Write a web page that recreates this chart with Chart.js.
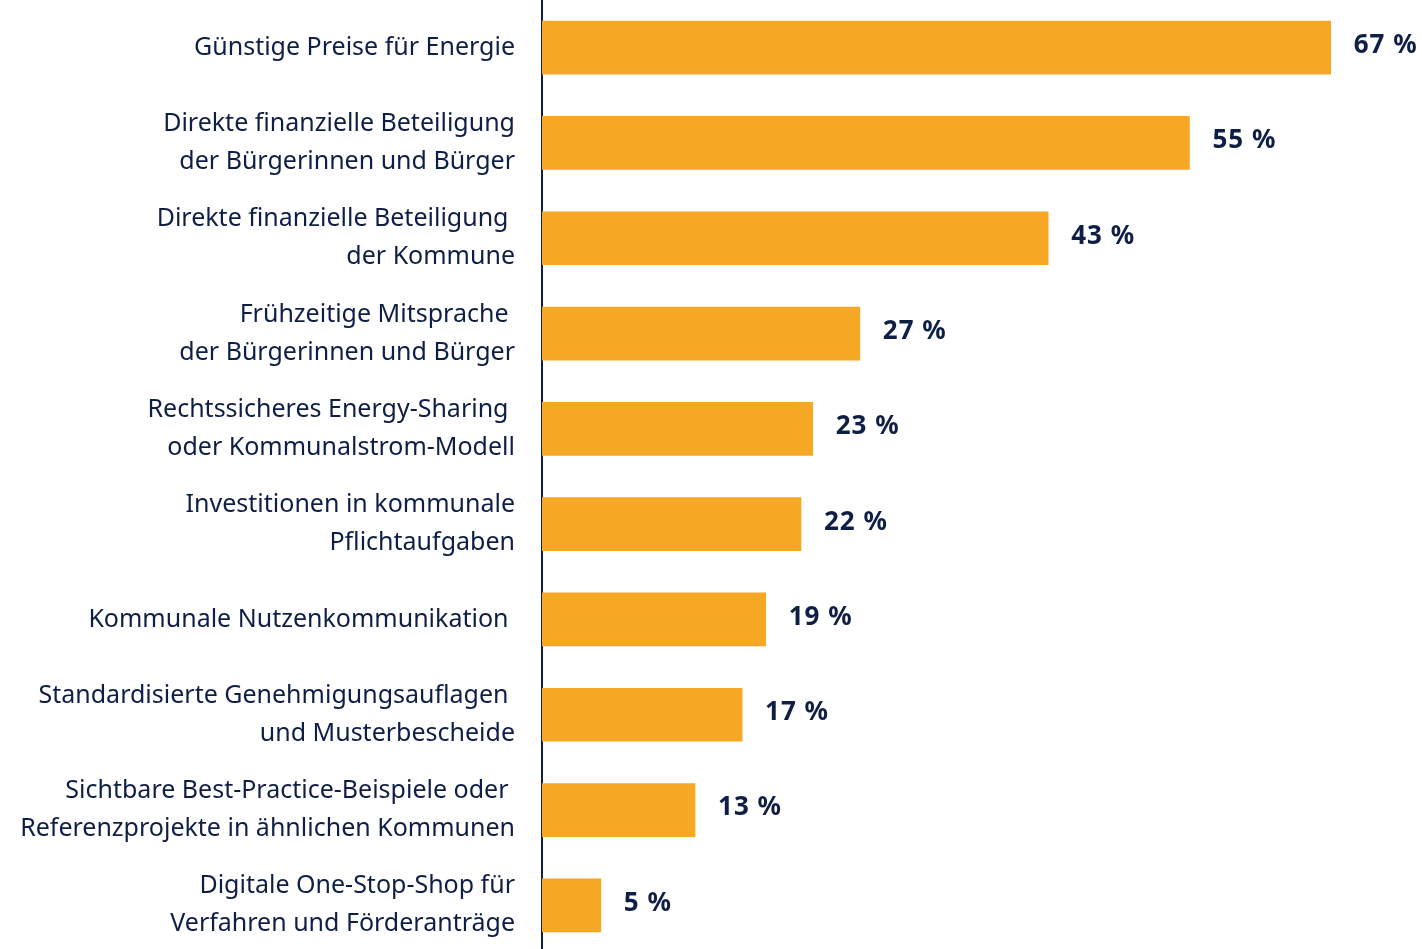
<!DOCTYPE html>
<html lang="de">
<head>
<meta charset="utf-8">
<title>Erfolgsfaktoren</title>
<script src="https://cdn.jsdelivr.net/npm/chart.js@4/dist/chart.umd.min.js"></script>
<style>
  html, body { margin: 0; padding: 0; background: #ffffff; overflow: hidden; }
  #wrap { width: 1422px; height: 949px; overflow: hidden; }
  canvas { display: block; }
</style>
</head>
<body>
<div id="wrap"><canvas id="chart" width="1422" height="953"></canvas></div>
<script>
// Categories (multi-line labels) and percentages
const categories = [
  ["Günstige Preise für Energie"],
  ["Direkte finanzielle Beteiligung", "der Bürgerinnen und Bürger"],
  ["Direkte finanzielle Beteiligung ", "der Kommune"],
  ["Frühzeitige Mitsprache ", "der Bürgerinnen und Bürger"],
  ["Rechtssicheres Energy-Sharing ", "oder Kommunalstrom-Modell"],
  ["Investitionen in kommunale", "Pflichtaufgaben"],
  ["Kommunale Nutzenkommunikation "],
  ["Standardisierte Genehmigungsauflagen ", "und Musterbescheide"],
  ["Sichtbare Best-Practice-Beispiele oder ", "Referenzprojekte in ähnlichen Kommunen"],
  ["Digitale One-Stop-Shop für", "Verfahren und Förderanträge"]
];
const values = [67, 55, 43, 27, 23, 22, 19, 17, 13, 5];
const valueLabels = values.map(v => v + " %");

const NAVY = "#0e1e45";
const ORANGE = "#f6a723";
const FONT = "'Noto Sans', 'Open Sans', sans-serif";

// Writes the percentage next to each bar end
const valueLabelPlugin = {
  id: "valueLabels",
  afterDatasetsDraw(chart) {
    const ctx = chart.ctx;
    const meta = chart.getDatasetMeta(0);
    ctx.save();
    ctx.font = "bold 26px " + FONT;
    if ("letterSpacing" in ctx) ctx.letterSpacing = "1px";
    ctx.fillStyle = NAVY;
    ctx.textAlign = "left";
    ctx.textBaseline = "middle";
    meta.data.forEach((bar, i) => {
      ctx.fillText(valueLabels[i], bar.x + 23, bar.y - 2);
    });
    ctx.restore();
  }
};

new Chart(document.getElementById("chart"), {
  type: "bar",
  data: {
    labels: categories,
    datasets: [{
      data: values,
      backgroundColor: ORANGE,
      borderWidth: 0,
      barThickness: 53
    }]
  },
  options: {
    indexAxis: "y",
    responsive: false,
    animation: false,
    layout: { padding: { top: 0, bottom: 0, left: 0, right: 56 } },
    plugins: {
      legend: { display: false },
      tooltip: { enabled: false }
    },
    scales: {
      x: {
        display: false,
        min: 0,
        max: 70
      },
      y: {
        grid: { display: false },
        border: { display: true, color: NAVY, width: 2 },
        ticks: {
          color: NAVY,
          padding: 19,
          font: { family: FONT, size: 25, lineHeight: 1.52 }
        },
        afterFit(scale) {
          scale.width = 542;
          scale.paddingTop = 0;
          scale.paddingBottom = 0;
        }
      }
    }
  },
  plugins: [valueLabelPlugin]
});
</script>
</body>
</html>
